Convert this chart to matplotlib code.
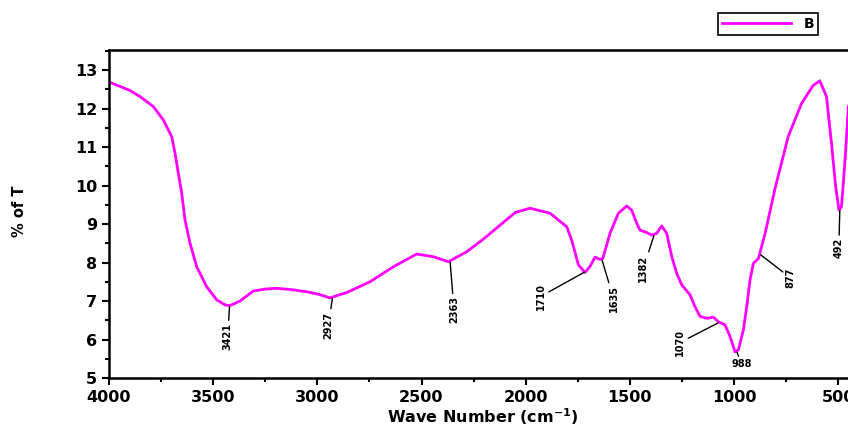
import numpy as np
import matplotlib
matplotlib.use("Agg")
import matplotlib.pyplot as plt
from matplotlib.ticker import MultipleLocator

# FTIR spectrum (wavenumber, %T)
wavenumber = [4000, 3900, 3851, 3787, 3739, 3699, 3683, 3667, 3651, 3635,
              3611, 3579, 3531, 3483, 3443, 3421, 3403, 3371, 3307, 3250,
              3195, 3130, 3051, 2990, 2939, 2900, 2859, 2747, 2635, 2523,
              2443, 2371, 2283, 2200, 2123, 2050, 1979, 1883, 1803, 1779,
              1747, 1715, 1691, 1667, 1643, 1630, 1595, 1555, 1515, 1491,
              1467, 1451, 1419, 1395, 1371, 1347, 1323, 1299, 1275, 1251,
              1211, 1187, 1163, 1131, 1099, 1075, 1043, 1019, 995, 979,
              955, 939, 923, 907, 883, 850, 804, 740, 676, 620,
              588, 556, 532, 512, 496, 484, 467, 451]
transmittance = [12.69, 12.47, 12.31, 12.05, 11.70, 11.27, 10.84, 10.31, 9.80, 9.10,
                 8.50, 7.89, 7.37, 7.03, 6.90, 6.88, 6.92, 7.00, 7.26, 7.31,
                 7.33, 7.30, 7.24, 7.17, 7.08, 7.15, 7.22, 7.50, 7.89, 8.22,
                 8.15, 8.02, 8.28, 8.62, 8.97, 9.30, 9.41, 9.28, 8.93, 8.58,
                 7.94, 7.74, 7.90, 8.14, 8.08, 8.10, 8.76, 9.28, 9.47, 9.36,
                 9.02, 8.84, 8.78, 8.71, 8.76, 8.95, 8.76, 8.16, 7.72, 7.42,
                 7.16, 6.85, 6.60, 6.55, 6.58, 6.46, 6.38, 6.08, 5.68, 5.73,
                 6.25, 6.85, 7.55, 7.98, 8.10, 8.77, 9.90, 11.27, 12.13, 12.60,
                 12.72, 12.31, 11.09, 9.97, 9.36, 9.45, 10.66, 12.05]

peak_labels = [3421, 2927, 2363, 1710, 1635, 1382, 1070, 988, 877, 492]
series_name = "B"

# label placement (pixel offsets from the curve) and rotation
label_offsets = [(-2, -31), (-4, -28), (4, -49), (-45, -25), (12, -40),
                 (-11, -34), (-39, -20), (5, -13), (31, -24), (-1, -39)]
label_rot = [90, 90, 90, 90, 90, 90, 90, 0, 90, 90]

W, H = 848, 429
fig = plt.figure(figsize=(W / 100, H / 100), dpi=100)
ax = fig.add_axes([109 / W, 51 / H, 750 / W, 328 / H])

ax.plot(wavenumber, transmittance, color="#ff00ff", lw=2.0, label=series_name)

ax.set_xlim(4000, 400)
ax.set_ylim(5, 13.52)
ax.xaxis.set_major_locator(MultipleLocator(500))
ax.xaxis.set_minor_locator(MultipleLocator(250))
ax.yaxis.set_major_locator(MultipleLocator(1))
ax.yaxis.set_minor_locator(MultipleLocator(0.5))
ax.tick_params(which="both", direction="out", width=1.5, labelsize=11.5)
ax.tick_params(which="major", length=5)
ax.tick_params(which="minor", length=3)
for lab in ax.get_xticklabels() + ax.get_yticklabels():
    lab.set_fontweight("bold")
for s in ax.spines.values():
    s.set_linewidth(1.8)

ax.set_xlabel("Wave Number (cm$^{\\mathbf{-1}}$)", fontsize=11.5, fontweight="bold")
ax.xaxis.set_label_coords((483 - 109) / 750, -(407 - 379) / 328)
ax.set_ylabel("% of T", fontsize=10.5, fontweight="bold")
ax.yaxis.set_label_coords(-(109 - 27) / 750, (379 - 212) / 328)

wn_asc = np.array(wavenumber[::-1])
tr_asc = np.array(transmittance[::-1])
for pk, (dx, dy), rot in zip(peak_labels, label_offsets, label_rot):
    yv = np.interp(pk, wn_asc, tr_asc)
    ax.annotate(str(pk), xy=(pk, yv), xytext=(dx, dy), textcoords="offset pixels",
                rotation=rot, ha="center", va="center", fontsize=7,
                fontweight="bold",
                arrowprops=dict(arrowstyle="-", color="black", lw=1.0,
                                shrinkA=0, shrinkB=1))

leg = fig.legend(loc="center", bbox_to_anchor=(768 / W, 1 - 24 / H),
                 handlelength=5.0, prop={"weight": "bold", "size": 10},
                 fancybox=False, framealpha=1, edgecolor="black",
                 borderpad=0.3, borderaxespad=0, handletextpad=0.9)
leg.get_frame().set_linewidth(1.2)

fig.savefig("out.png", dpi=100)
